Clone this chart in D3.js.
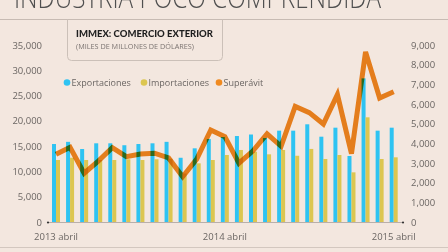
<!DOCTYPE html>
<html>
<head>
<meta charset="utf-8">
<script src="https://cdn.jsdelivr.net/npm/d3@7"></script>
<style>
  html, body { margin: 0; padding: 0; background: #f3e7df; }
  svg { display: block; }
</style>
</head>
<body>
<svg></svg>
<script>
const width = 448;
const height = 252;

// months, April 2013 to April 2015
const months = ["2013-04", "2013-05", "2013-06", "2013-07", "2013-08", "2013-09", "2013-10",
  "2013-11", "2013-12", "2014-01", "2014-02", "2014-03", "2014-04", "2014-05", "2014-06",
  "2014-07", "2014-08", "2014-09", "2014-10", "2014-11", "2014-12", "2015-01", "2015-02",
  "2015-03", "2015-04"];

const exportaciones = [15420, 15850, 14430, 15560, 15560, 15180, 15420, 15560, 15850, 12700,
  14570, 16400, 16800, 17000, 17300, 16600, 18060, 18060, 19320, 16870, 18650, 13050, 28400,
  18060, 18650];

const importaciones = [12260, 12700, 12260, 12260, 12260, 12400, 12260, 12400, 12500, 9600,
  11600, 12260, 13250, 14240, 13900, 13380, 14240, 13100, 14450, 12460, 13250, 9820, 20700,
  12460, 12790];

const superavit = [3440, 3800, 2480, 3100, 3780, 3320, 3460, 3500, 3260, 2300, 3200, 4680,
  4340, 2990, 3620, 4480, 3850, 5880, 5560, 4980, 6480, 3480, 8650, 6300, 6620];

const leftTicks = [0, 5000, 10000, 15000, 20000, 25000, 30000, 35000];
const rightTicks = [0, 1000, 2000, 3000, 4000, 5000, 6000, 7000, 8000, 9000];
const xLabels = { "2013-04": "2013 abril", "2014-04": "2014 abril", "2015-04": "2015 abril" };

const font = '"Open Sans", sans-serif';
const blue = "#2ec3f2";
const yellow = "#dcc650";
const orange = "#f08a20";

const svg = d3.select("svg")
  .attr("width", width)
  .attr("height", height)
  .style("font-family", font);

svg.append("rect")
  .attr("width", width)
  .attr("height", height)
  .attr("fill", "#f3e7df");

// headline, cut off at the top
svg.append("text")
  .attr("x", 14)
  .attr("y", 8)
  .attr("textLength", 367)
  .attr("lengthAdjust", "spacingAndGlyphs")
  .attr("fill", "#4f4f4f")
  .style("font-size", "29px")
  .style("font-weight", 300)
  .text("INDUSTRIA POCO COMPRENDIDA");

svg.append("line")
  .attr("x1", 0).attr("x2", width)
  .attr("y1", 19.5).attr("y2", 19.5)
  .attr("stroke", "#c7bbb3");

svg.append("line")
  .attr("x1", 0).attr("x2", width)
  .attr("y1", 247.5).attr("y2", 247.5)
  .attr("stroke", "#d3c7bf");

// title box hanging from the rule
svg.append("path")
  .attr("d", "M67.5,19.5 V56.5 Q67.5,60.5 71.5,60.5 H218.5 Q222.5,60.5 222.5,56.5 V19.5")
  .attr("fill", "none")
  .attr("stroke", "#cbc0b8");

svg.append("text")
  .attr("x", 76)
  .attr("y", 37)
  .attr("textLength", 137)
  .attr("lengthAdjust", "spacingAndGlyphs")
  .attr("fill", "#1e1e1e")
  .style("font-family", "Lato, sans-serif")
  .style("font-size", "8.5px")
  .style("font-weight", 900)
  .text("IMMEX: COMERCIO EXTERIOR");

svg.append("text")
  .attr("x", 76)
  .attr("y", 49)
  .attr("textLength", 118)
  .attr("lengthAdjust", "spacingAndGlyphs")
  .attr("fill", "#7a7370")
  .style("font-size", "7px")
  .text("(MILES DE MILLONES DE DÓLARES)");

// scales
const x = d3.scaleBand()
  .domain(months)
  .range([52, 397.7])
  .paddingInner(0.4314)
  .paddingOuter(0);

const yL = d3.scaleLinear().domain([0, 35000]).range([222, 45]);
const yR = d3.scaleLinear().domain([0, 9000]).range([222, 45]);
const half = x.bandwidth() / 2;

// axes
const leftAxis = svg.append("g")
  .attr("transform", "translate(42,0)")
  .call(d3.axisLeft(yL).tickValues(leftTicks).tickSize(0).tickPadding(0).tickFormat(d3.format(",")));

const rightAxis = svg.append("g")
  .attr("transform", "translate(411,0)")
  .call(d3.axisRight(yR).tickValues(rightTicks).tickSize(0).tickPadding(0).tickFormat(d3.format(",")));

[leftAxis, rightAxis].forEach(g => {
  g.select(".domain").remove();
  g.selectAll("text")
    .attr("fill", "#6b6663")
    .style("font-family", font)
    .style("font-size", "9.5px");
});

// bars
svg.append("g").selectAll("rect")
  .data(months)
  .join("rect")
  .attr("x", d => x(d))
  .attr("y", (d, i) => yL(exportaciones[i]))
  .attr("width", half)
  .attr("height", (d, i) => yL(0) - yL(exportaciones[i]))
  .attr("fill", blue);

svg.append("g").selectAll("rect")
  .data(months)
  .join("rect")
  .attr("x", d => x(d) + half)
  .attr("y", (d, i) => yL(importaciones[i]))
  .attr("width", half)
  .attr("height", (d, i) => yL(0) - yL(importaciones[i]))
  .attr("fill", yellow);

// baseline with end dots
svg.append("line")
  .attr("x1", 48).attr("x2", 403)
  .attr("y1", yL(0) + 0.5).attr("y2", yL(0) + 0.5)
  .attr("stroke", "#a9a19c")
  .attr("stroke-width", 0.8);

svg.selectAll("circle.end")
  .data([48, 403])
  .join("circle")
  .attr("class", "end")
  .attr("cx", d => d)
  .attr("cy", yL(0) + 0.5)
  .attr("r", 1.1)
  .attr("fill", "#333");

// superávit line, multiplied over the bars
const line = d3.line()
  .x((d, i) => x(months[i]) + half)
  .y(d => yR(d));

svg.append("path")
  .datum(superavit)
  .attr("d", line)
  .attr("fill", "none")
  .attr("stroke", orange)
  .attr("stroke-width", 5)
  .style("mix-blend-mode", "multiply");

// x labels
svg.append("g").selectAll("text")
  .data(months.filter(m => xLabels[m]))
  .join("text")
  .attr("x", d => x(d) + half)
  .attr("y", 240)
  .attr("text-anchor", "middle")
  .attr("fill", "#6b6663")
  .style("font-size", "9.5px")
  .text(d => xLabels[d]);

// legend
const legendItems = [
  { name: "Exportaciones", color: blue, x: 67 },
  { name: "Importaciones", color: yellow, x: 144 },
  { name: "Superávit", color: orange, x: 219 }
];

const legend = svg.append("g")
  .selectAll("g")
  .data(legendItems)
  .join("g")
  .attr("transform", d => `translate(${d.x},82.5)`);

legend.append("circle")
  .attr("r", 3.3)
  .attr("fill", d => d.color);

legend.append("text")
  .attr("x", 4.5)
  .attr("y", 3.3)
  .attr("fill", "#6b6663")
  .style("font-size", "9px")
  .text(d => d.name);
</script>
</body>
</html>
